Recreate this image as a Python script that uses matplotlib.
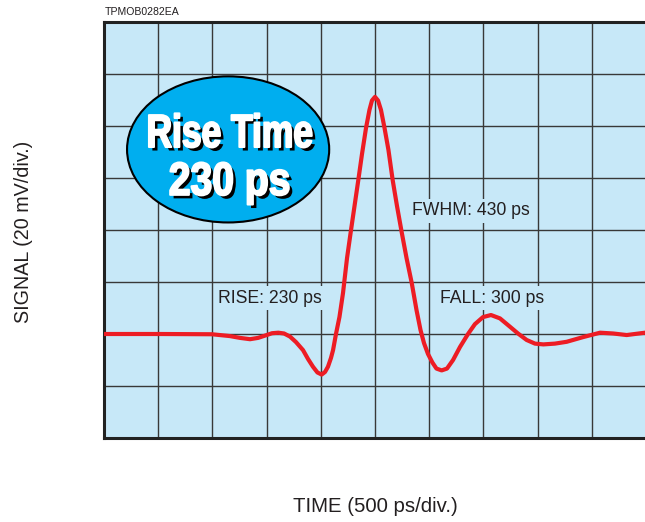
import numpy as np
import matplotlib
matplotlib.use('Agg')
import matplotlib.pyplot as plt
import matplotlib.patheffects as pe
from matplotlib.patches import Ellipse
from matplotlib.transforms import Affine2D

# pulse trace, time in ps and signal in mV (baseline = 0)
time_ps = [0, 517, 996, 1162, 1255, 1347, 1421, 1501, 1550, 1608, 1661, 1716,
           1771, 1836, 1882, 1928, 1969, 2008, 2039, 2066, 2094, 2113, 2140,
           2172, 2205, 2242, 2276, 2311, 2346, 2380, 2417, 2449, 2472, 2500,
           2528, 2555, 2588, 2624, 2663, 2703, 2746, 2791, 2839, 2883, 2920,
           2952, 2989, 3030, 3067, 3115, 3164, 3220, 3284, 3358, 3422, 3496,
           3570, 3653, 3745, 3819, 3899, 3976, 4053, 4160, 4268, 4419, 4576,
           4696, 4822, 4991, 5000]
signal_mv = [0.0, 0.0, -0.1, -0.8, -1.5, -2.0, -1.5, -0.4, 0.3, 0.5, 0.2, -1.0,
             -3.1, -6.2, -9.6, -12.6, -14.8, -15.6, -14.6, -12.6, -9.2, -6.2, 0.0,
             6.5, 15.8, 29.2, 39.2, 49.2, 59.2, 69.2, 79.2, 86.2, 89.8, 91.2,
             89.8, 86.2, 79.2, 70.8, 59.2, 49.2, 39.2, 29.2, 19.6, 9.2, 1.5,
             -3.5, -7.7, -11.0, -13.3, -14.0, -13.3, -10.0, -5.0, 0.0, 3.8, 6.5,
             7.3, 6.0, 2.8, 0.2, -2.3, -3.7, -4.0, -3.7, -3.0, -1.2, 0.5,
             0.2, -0.4, 0.5, 0.5]

x_div = 500    # ps per division
y_div = 20     # mV per division

bg = '#c7e8f8'
red = '#ed1c24'
grid_col = '#383838'


class Squeeze(pe.AbstractPathEffect):
    """Narrow a text path horizontally about its centre, then run other effects."""
    def __init__(self, sx, effects):
        super().__init__()
        self.sx = sx
        self.effects = effects

    def draw_path(self, renderer, gc, tpath, affine, rgbFace=None):
        ext = tpath.get_extents()
        cx = (ext.x0 + ext.x1) / 2
        sq = Affine2D().translate(-cx, 0).scale(self.sx, 1).translate(cx, 0)
        for e in self.effects:
            e.draw_path(renderer, gc, tpath, sq + affine, rgbFace)


fig = plt.figure(figsize=(6.45, 5.22), dpi=100)
ax = fig.add_axes([104/645, 84/522, 542/645, 416/522])
ax.set_facecolor(bg)

ax.set_xlim(0, 10*x_div)
ax.set_ylim(-2*y_div, 6*y_div)
ax.set_xticks(np.arange(0, 10*x_div + 1, x_div))
ax.set_yticks(np.arange(-2*y_div, 6*y_div + 1, y_div))
ax.tick_params(length=0, labelbottom=False, labelleft=False)
ax.grid(True, color=grid_col, linewidth=1.0, zorder=1)
ax.set_axisbelow(True)

for side in ['left', 'bottom', 'top']:
    ax.spines[side].set_linewidth(2.2)
    ax.spines[side].set_color('#222222')
ax.spines['right'].set_visible(False)

ax.plot(time_ps, signal_mv, color=red, linewidth=3.0, solid_capstyle='round',
        solid_joinstyle='round', zorder=4)

# callout balloon
ell = Ellipse((1145, 71), 1865, 56.2, facecolor='#00aeef', edgecolor='black',
              linewidth=1.5, zorder=3)
ax.add_patch(ell)

def heavy(sx):
    return [Squeeze(sx, [
        pe.withSimplePatchShadow(offset=(2.5, -2.5), shadow_rgbFace='black', alpha=1.0),
        pe.withStroke(linewidth=1.4, foreground='white'),
    ])]

big = dict(color='white', fontsize=33.5, fontweight='bold', family='Liberation Sans',
           ha='center', va='baseline', zorder=5)
ax.text(1158, 71.9, 'Rise Time', path_effects=heavy(0.76), **big)
ax.text(1158, 53.5, '230 ps', path_effects=heavy(0.84), **big)

lab = dict(fontsize=12.7, family='Liberation Sans', color='#231f20', va='center',
           zorder=2, bbox=dict(facecolor=bg, edgecolor='none', pad=2.5))
ax.text(1050, 13.8, 'RISE: 230 ps', **lab)
ax.text(2840, 47.4, 'FWHM: 430 ps', **lab)
ax.text(3100, 13.8, 'FALL: 300 ps', **lab)

fig.text(105/645, 1 - 12/522, 'TPMOB0282EA', fontsize=7.6, family='Liberation Sans',
         color='#231f20', va='center', ha='left')
fig.text(375/645, 1 - 507/522, 'TIME (500 ps/div.)', fontsize=14.7,
         family='Liberation Sans', color='#231f20', ha='center', va='center')
fig.text(24/645, 1 - 232/522, 'SIGNAL (20 mV/div.)', fontsize=14.2, rotation=90,
         family='Liberation Sans', color='#231f20', ha='center', va='center')

fig.savefig('out.png', dpi=100)
